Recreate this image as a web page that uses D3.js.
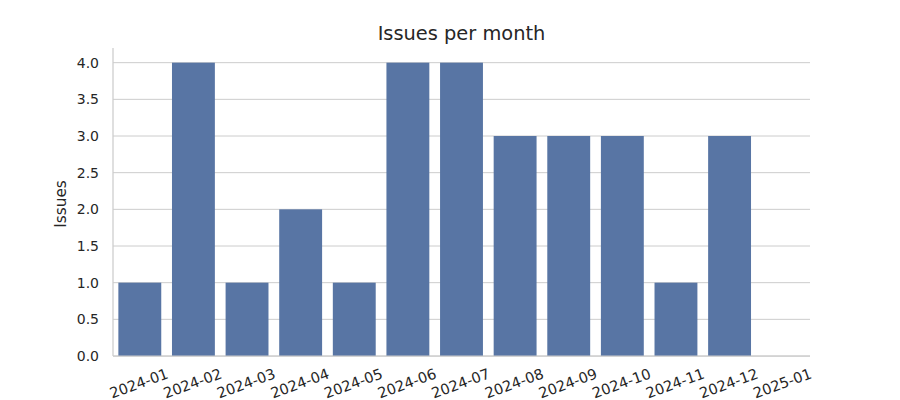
<!DOCTYPE html>
<html>
<head>
<meta charset="utf-8">
<script src="https://cdn.jsdelivr.net/npm/d3@7"></script>
<style>
  html, body { margin: 0; padding: 0; background: #ffffff; }
  svg { display: block; font-family: "DejaVu Sans", sans-serif; }
</style>
</head>
<body>
<svg id="chart" width="900" height="400"></svg>
<script>
const months = ["2024-01","2024-02","2024-03","2024-04","2024-05","2024-06","2024-07","2024-08","2024-09","2024-10","2024-11","2024-12","2025-01"];
const issues = [1, 4, 1, 2, 1, 4, 4, 3, 3, 3, 1, 3, 0];
const yTicks = [0, 0.5, 1, 1.5, 2, 2.5, 3, 3.5, 4];
const titleText = "Issues per month";
const yLabel = "Issues";

(function () {
const svg = d3.select("#chart");
const mLeft = 113, mRight = 810, mTop = 48, mBottom = 356;

const x = d3.scaleBand().domain(months).range([mLeft, mRight]).paddingInner(0.2).paddingOuter(0.1);
const y = d3.scaleLinear().domain([0, 4.2]).range([mBottom, mTop]);

// gridlines
svg.append("g").selectAll("line").data(yTicks).join("line")
  .attr("x1", mLeft).attr("x2", mRight)
  .attr("y1", d => y(d)).attr("y2", d => y(d))
  .attr("stroke", "#cccccc").attr("stroke-width", 1);

// bars
svg.append("g").selectAll("rect").data(months).join("rect")
  .attr("x", (d) => x(d))
  .attr("width", x.bandwidth())
  .attr("y", (d, i) => y(issues[i]))
  .attr("height", (d, i) => y(0) - y(issues[i]))
  .attr("fill", "#5875a4");

// spines
svg.append("line").attr("x1", mLeft).attr("x2", mLeft).attr("y1", mTop).attr("y2", mBottom)
  .attr("stroke", "#cccccc").attr("stroke-width", 1.25);
svg.append("line").attr("x1", mLeft).attr("x2", mRight).attr("y1", mBottom).attr("y2", mBottom)
  .attr("stroke", "#cccccc").attr("stroke-width", 1.25);

// y tick labels
svg.append("g").selectAll("text").data(yTicks).join("text")
  .attr("x", 99).attr("y", d => y(d))
  .attr("text-anchor", "end").attr("dominant-baseline", "central")
  .attr("font-size", 14).attr("fill", "#262626")
  .text(d => d.toFixed(1));

// x tick labels
svg.append("g").selectAll("text").data(months).join("text")
  .attr("transform", d => `translate(${x(d) + x.bandwidth() / 2 - 1},383) rotate(-20)`)
  .attr("text-anchor", "middle").attr("dominant-baseline", "central")
  .attr("font-size", 14.6).attr("fill", "#262626")
  .text(d => d);

// y label
svg.append("text")
  .attr("transform", "translate(61,204) rotate(-90)")
  .attr("text-anchor", "middle").attr("dominant-baseline", "central")
  .attr("font-size", 15.3).attr("fill", "#262626")
  .text(yLabel);

// title
svg.append("text")
  .attr("x", (mLeft + mRight) / 2).attr("y", 40)
  .attr("text-anchor", "middle")
  .attr("font-size", 19.4).attr("fill", "#262626")
  .text(titleText);
})();
</script>
</body>
</html>
